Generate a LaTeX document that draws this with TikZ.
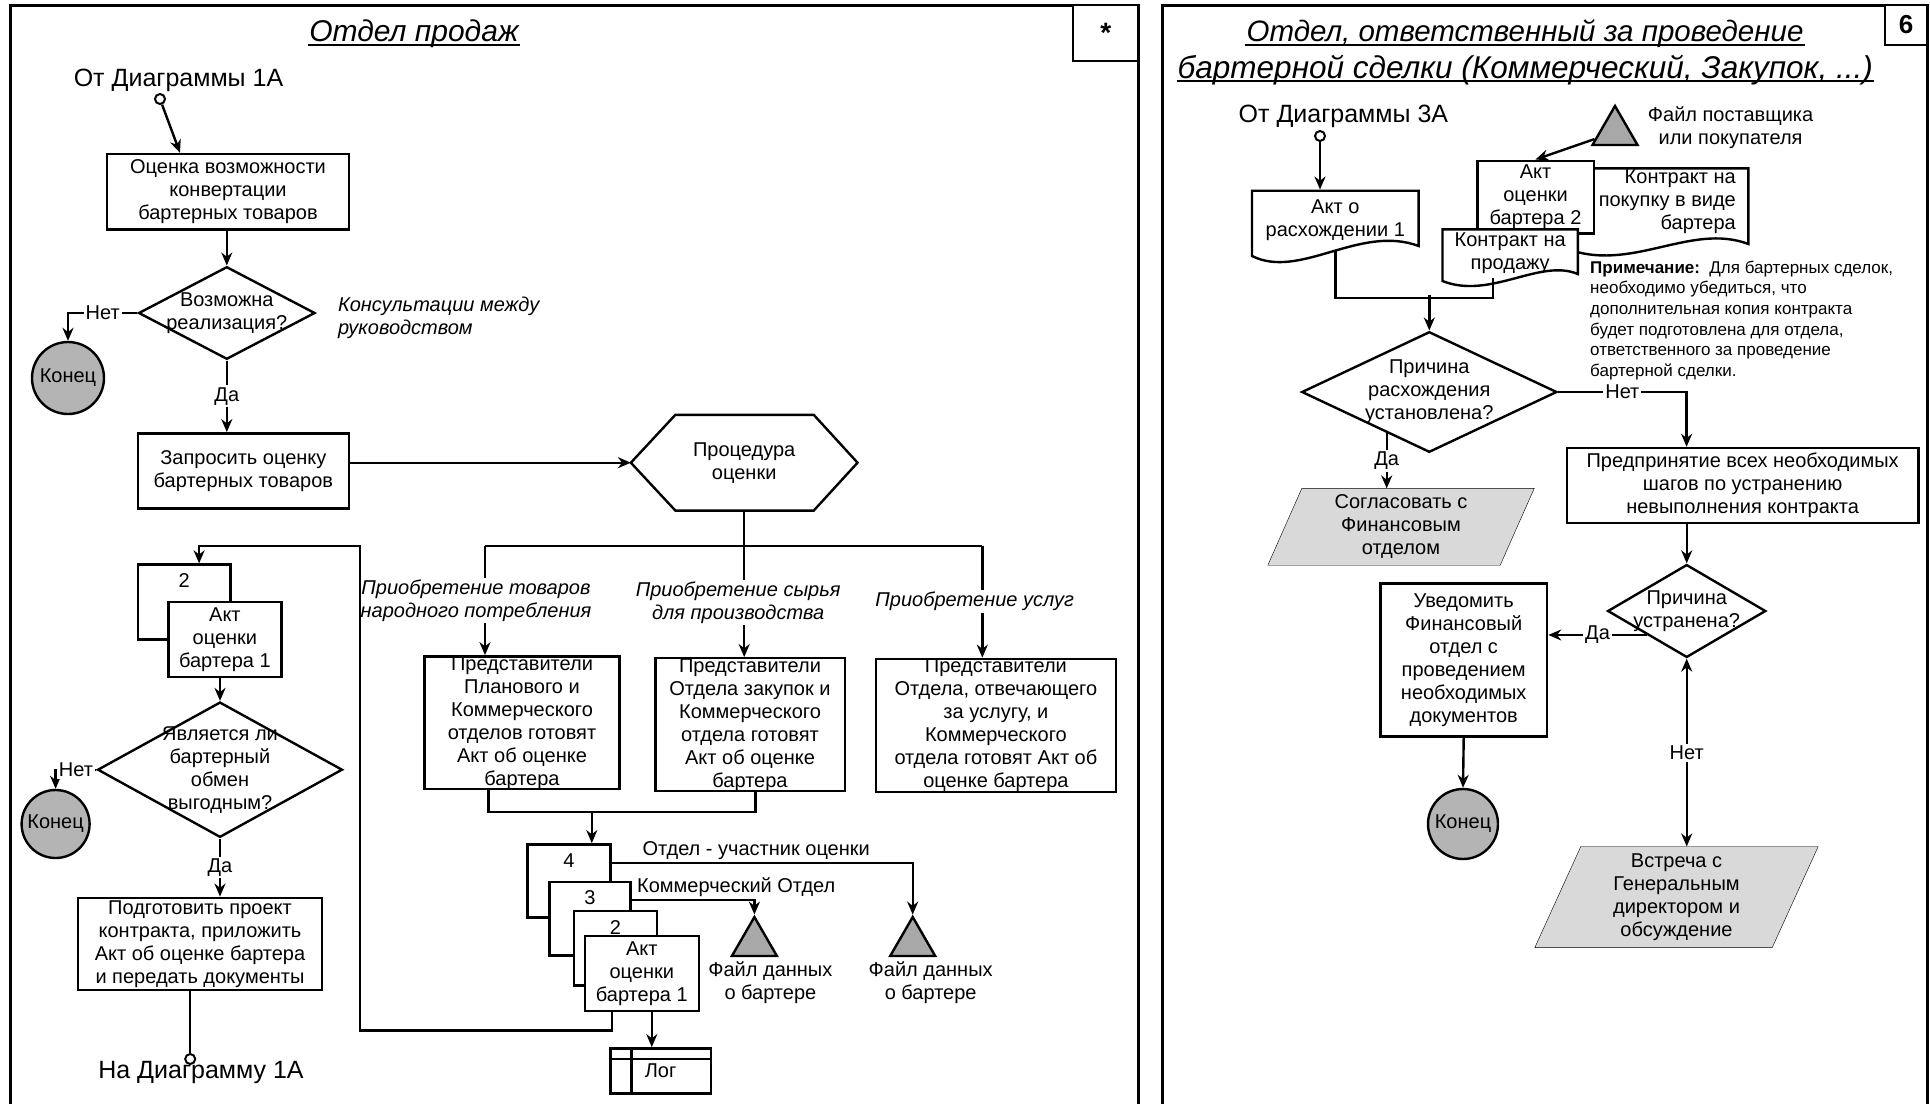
\documentclass[tikz,border=0pt]{standalone}
\usepackage{fontspec}
\setmainfont{Liberation Sans}
\usepackage{tikz}
\usetikzlibrary{arrows.meta,positioning,calc,shapes.geometric,backgrounds}
\definecolor{endGray}{HTML}{B4B4B4}
\definecolor{fileGray}{HTML}{A8A8A8}
\definecolor{ioGray}{HTML}{D9D9D9}

\begin{document}
\begin{tikzpicture}[x=1pt, y=-1pt, line width=2.4pt,
  font=\fontsize{20}{23}\selectfont, >={Stealth[length=13pt,width=11pt]},
  box/.style={draw,fill=white,inner sep=0pt,align=center},
  dec/.style={diamond,draw,fill=white,inner sep=0pt},
  stop/.style={circle,draw,fill=endGray,inner sep=0pt,minimum size=72},
  term/.style={circle,draw,fill=white,inner sep=0pt,minimum size=10,line width=2pt},
  file/.style={regular polygon,regular polygon sides=3,draw,fill=fileGray,inner sep=0pt,minimum size=52},
  txt/.style={inner sep=0pt,align=center},
  ttl/.style={inner sep=0pt,anchor=base,font=\fontsize{30}{36}\selectfont\itshape},
  uline/.style={line width=2pt},
  lbl/.style={fill=white,inner sep=2pt},
  itl/.style={fill=white,inner sep=2pt,align=center,font=\fontsize{20}{23}\selectfont\itshape},
  docline/.style={draw,fill=white},
  io/.style={draw,fill=ioGray}]
\useasboundingbox (0,0) rectangle (1930,1103);
% --- left panel: sales department ---
\begin{scope}
  \draw[line width=3pt] (10,1110) -- (10,5) -- (1138,5) -- (1138,1110);
  \node[box, minimum width=65.6, minimum height=55.7, font=\fontsize{28}{28}\selectfont\bfseries] (star) at (1105.8,32.85) {*};
  \node[ttl] (ttlL) at (414,41.7) {Отдел продаж};
  \draw[uline] ([yshift=-3]ttlL.base west) -- ([yshift=-3]ttlL.base east);
  \node[txt, font=\fontsize{25}{28}\selectfont] (fromL) at (178.5,80) {От Диаграммы 1А};
  \node[term] (st1) at (160,99) {};
  \node[box, minimum width=242, minimum height=75.3] (eval) at (228,191.7) {Оценка возможности\\конвертации\\бартерных товаров};
  \node[dec, minimum width=176.5, minimum height=92.6, label={[align=center]center:Возможна\\реализация?}] (real) at (226.8,313) {};
  \node[txt, align=left, anchor=west, font=\fontsize{20}{23}\selectfont\itshape] (cons) at (336.8,318.3) {Консультации между\\руководством};
  \node[stop] (end1) at (68,378) {Конец};
  \node[box, minimum width=211.2, minimum height=75] (req) at (243.4,470.8) {Запросить оценку\\бартерных товаров};
  \draw[->] (st1) -- ([xshift=-48]eval.north);
  \draw[->] (eval.south -| real.north) -- (real.north);
  \draw[->] (real.west) -| node[lbl, pos=0.25]{Нет} (end1.north);
  \draw[->] (real.south) -- node[lbl]{Да} (real.south |- req.north);
  % evaluation procedure
  \node[txt, minimum width=224.3, minimum height=93.3] (proc) at (744.2,462.7) {Процедура\\оценки};
  \draw (proc.west) -- ([xshift=44.5]proc.north west) -- ([xshift=-43.8]proc.north east) -- (proc.east)
    -- ([xshift=-43.8]proc.south east) -- ([xshift=44.5]proc.south west) -- cycle;
  \draw[->] (req.east |- proc.west) -- (proc.west);
  \node[box, minimum width=194.9, minimum height=131] (repA) at (522,722.8) {Представители\\Планового и\\Коммерческого\\отделов готовят\\Акт об оценке\\бартера};
  \node[box, minimum width=189.4, minimum height=129.3] (repB) at (750,724.7) {Представители\\Отдела закупок и\\Коммерческого\\отдела готовят\\Акт об оценке\\бартера};
  \node[box, minimum width=239.8, minimum height=130.7] (repC) at (995.9,725.3) {Представители\\Отдела, отвечающего\\за услугу, и\\Коммерческого\\отдела готовят Акт об\\оценке бартера};
  \coordinate (brA) at (485,545.7);
  \coordinate (brC) at (982.3,545.7);
  \draw (brA) -- (brC);
  \draw[->] (proc.south) -- node[itl, pos=0.628, xshift=-6]{Приобретение сырья\\для производства} (proc.south |- repB.north);
  \draw[->] (brA) -- node[itl, xshift=-9]{Приобретение товаров\\народного потребления} (brA |- repA.north);
  \draw[->] (brC) -- node[itl, xshift=-7.6]{Приобретение услуг} (brC |- repC.north);
  % stack of evaluation acts
  \node[box, minimum width=83, minimum height=73, label={[anchor=north, inner sep=9pt]north:4}] (act4) at (569,880.8) {};
  \node[box, minimum width=81.3, minimum height=73.6, label={[anchor=north, inner sep=9pt]north:3}] (act3) at (590,918.5) {};
  \node[box, minimum width=82.5, minimum height=74.3, label={[anchor=north, inner sep=9pt]north:2}] (act2) at (615.5,948.2) {};
  \node[box, minimum width=114.1, minimum height=75] (act1) at (641.8,973.5) {Акт\\оценки\\бартера 1};
  \coordinate (jn) at (591.8,811.7);
  \draw ([xshift=-33.5]repA.south) |- (jn) -| ([xshift=5.6]repB.south);
  \draw[->] (jn) -- (jn |- act4.north);
  \node[file, label={[align=center, xshift=16]below:Файл данных\\о бартере}] (dat1) at (754.4,943) {};
  \node[file, label={[align=center, xshift=18]below:Файл данных\\о бартере}] (dat2) at (912.7,943) {};
  \draw[->] ([yshift=18]act4.east) -| node[pos=0.24, above, inner sep=2pt]{Отдел - участник оценки} (dat2.north);
  \draw[->] ([yshift=18.5]act3.east) -| node[pos=0.4257, above, inner sep=2pt]{Коммерческий Отдел} (dat1.north);
  \node[box, minimum width=100.2, minimum height=45] (log) at (660.6,1070.8) {Лог};
  \draw ([yshift=-11.7]log.north west) -- ++(103.1,0);
  \draw ([xshift=22.3]log.north west) -- ++(0,46.7);
  \draw[->] ([xshift=10]act1.south) -- ([xshift=10]act1.south |- log.north);
  % back to the single act
  \node[box, minimum width=92.6, minimum height=75, label={[anchor=north, inner sep=9pt]north:2}] (bk2) at (184.1,602) {};
  \node[box, minimum width=112.9, minimum height=75] (bk1) at (224.9,639.5) {Акт\\оценки\\бартера 1};
  \coordinate (lq) at (359.7,545.8);
  \draw[->] (act1.south -| act4.east) -- ++(0,18.3) -| (lq) -| ([xshift=15]bk2.north);
  \node[dec, minimum width=244.9, minimum height=135.3, label={[align=center]center:Является ли\\бартерный\\обмен\\выгодным?}] (gain) at (220,769.7) {};
  \node[stop, minimum size=68] (end2) at (55.6,824) {Конец};
  \node[box, minimum width=244.5, minimum height=92.5] (prep) at (200,944) {Подготовить проект\\контракта, приложить\\Акт об оценке бартера\\и передать документы};
  \node[txt, font=\fontsize{25}{28}\selectfont] (toL) at (201,1072.7) {На Диаграмму 1А};
  \node[term] (fin1) at (190.2,1059) {};
  \draw[->] (bk1.south -| gain.north) -- (gain.north);
  \draw[->] (gain.west) -| node[lbl, pos=0.25]{Нет} (end2.north);
  \draw[->] (gain.south) -- node[lbl]{Да} (gain.south |- prep.north);
  \draw (prep.south -| fin1) -- (fin1);
\end{scope}
% --- right panel: department in charge of the barter deal ---
\begin{scope}
  \draw[line width=3pt] (1162,1110) -- (1162,5) -- (1927,5) -- (1927,1110);
  \node[box, minimum width=42, minimum height=40, font=\fontsize{26}{26}\selectfont\bfseries] (pg) at (1906,25) {6};
  \node[ttl, font=\fontsize{29.5}{36}\selectfont\itshape] (ttlR1) at (1525,41.5) {Отдел, ответственный за проведение};
  \node[ttl, font=\fontsize{31.5}{36}\selectfont\itshape] (ttlR2) at (1525.3,78.2) {бартерной сделки (Коммерческий, Закупок, ...)};
  \draw[uline] ([yshift=-3]ttlR1.base west) -- ([yshift=-3]ttlR1.base east);
  \draw[uline] ([yshift=-3]ttlR2.base west) -- ([yshift=-3]ttlR2.base east);
  \node[txt, font=\fontsize{25}{28}\selectfont] (fromR) at (1343.4,116.7) {От Диаграммы 3А};
  \node[term] (st3) at (1320,136) {};
  % documents
  \draw[docline] (1252,190.7) -- (1418.6,190.7) -- (1418.6,246) .. controls (1360,224) and (1300,280) .. (1252,256) -- cycle;
  \node[txt, minimum width=166.6, minimum height=59.3] (disc) at (1335.3,220.35) {Акт о\\расхождении 1};
  \draw[docline] (1565,168.3) -- (1748.4,168.3) -- (1748.4,244) .. controls (1690,222) and (1630,274) .. (1565,248) -- cycle;
  \node[txt, align=right, anchor=east] (buy) at (1737,201.3) {Контракт на\\покупку в виде\\бартера};
  \node[box, minimum width=116.4, minimum height=72.6] (act2r) at (1535.5,197) {Акт\\оценки\\бартера 2};
  \draw[docline] (1442.5,229.3) -- (1577.8,229.3) -- (1577.8,274) .. controls (1540,258) and (1490,300) .. (1442.5,281) -- cycle;
  \node[txt, minimum width=135.3, minimum height=47.7] (sell) at (1510.2,253.2) {Контракт на\\продажу};
  \node[file, label={[align=center, xshift=12, yshift=4]right:Файл поставщика\\или покупателя}] (sup) at (1615,132) {};
  \draw[->] (st3) -- (st3 |- disc.north);
  \draw[->] (sup) -- (act2r.north);
  \node[txt, align=left, anchor=north west, font=\fontsize{17}{20.7}\selectfont] (note) at (1589,259.5) {\textbf{Примечание:}\ \ Для бартерных сделок,\\необходимо убедиться, что\\дополнительная копия контракта\\будет подготовлена для отдела,\\ответственного за проведение\\бартерной сделки.};
  % decisions
  \draw (disc.south) -- ++(0,46.7) -| ([xshift=-17]sell.south);
  \node[dec, minimum width=255.2, minimum height=120.6, label={[align=center]center:Причина\\расхождения\\установлена?}] (why) at (1429.3,392) {};
  \draw[->] ([yshift=35.3]why.north) -- (why.north);
  \node[box, minimum width=351.8, minimum height=75] (fix) at (1742.6,485.5) {Предпринятие всех необходимых\\шагов по устранению\\невыполнения контракта};
  \draw[->] (why.east) -| node[lbl, pos=0.25]{Нет} ([xshift=-56]fix.north);
  \node[txt, minimum width=230, minimum height=74.4] (fin) at (1401,526.8) {Согласовать с\\Финансовым\\отделом};
  \begin{scope}[on background layer]
    \draw[io] ([xshift=17]fin.north west) -- ([xshift=17]fin.north east) -- ([xshift=-17]fin.south east) -- ([xshift=-17]fin.south west) -- cycle;
  \end{scope}
  \draw[->] (why.224) -- node[lbl]{Да} (why.224 |- fin.north);
  \node[dec, minimum width=158.2, minimum height=92.9, label={[align=center]center:Причина\\устранена?}] (fixd) at (1686.7,611) {};
  \draw[->] (fix.south -| fixd.north) -- (fixd.north);
  \node[box, minimum width=166.7, minimum height=153.3] (notify) at (1463.7,660) {Уведомить\\Финансовый\\отдел с\\проведением\\необходимых\\документов};
  \draw[->] (fixd.211) -- node[lbl]{Да} (fixd.211 -| notify.east);
  \node[stop, minimum size=70] (end3) at (1463,824) {Конец};
  \draw[->] (notify.south) -- (end3.north);
  \node[txt, minimum width=235, minimum height=98.7] (meet) at (1676.5,897) {Встреча с\\Генеральным\\директором и\\обсуждение};
  \begin{scope}[on background layer]
    \draw[io] ([xshift=23]meet.north west) -- ([xshift=23]meet.north east) -- ([xshift=-23]meet.south east) -- ([xshift=-23]meet.south west) -- cycle;
  \end{scope}
  \draw[<->] (fixd.south) -- node[lbl]{Нет} (fixd.south |- meet.north);
\end{scope}
\end{tikzpicture}
\end{document}
